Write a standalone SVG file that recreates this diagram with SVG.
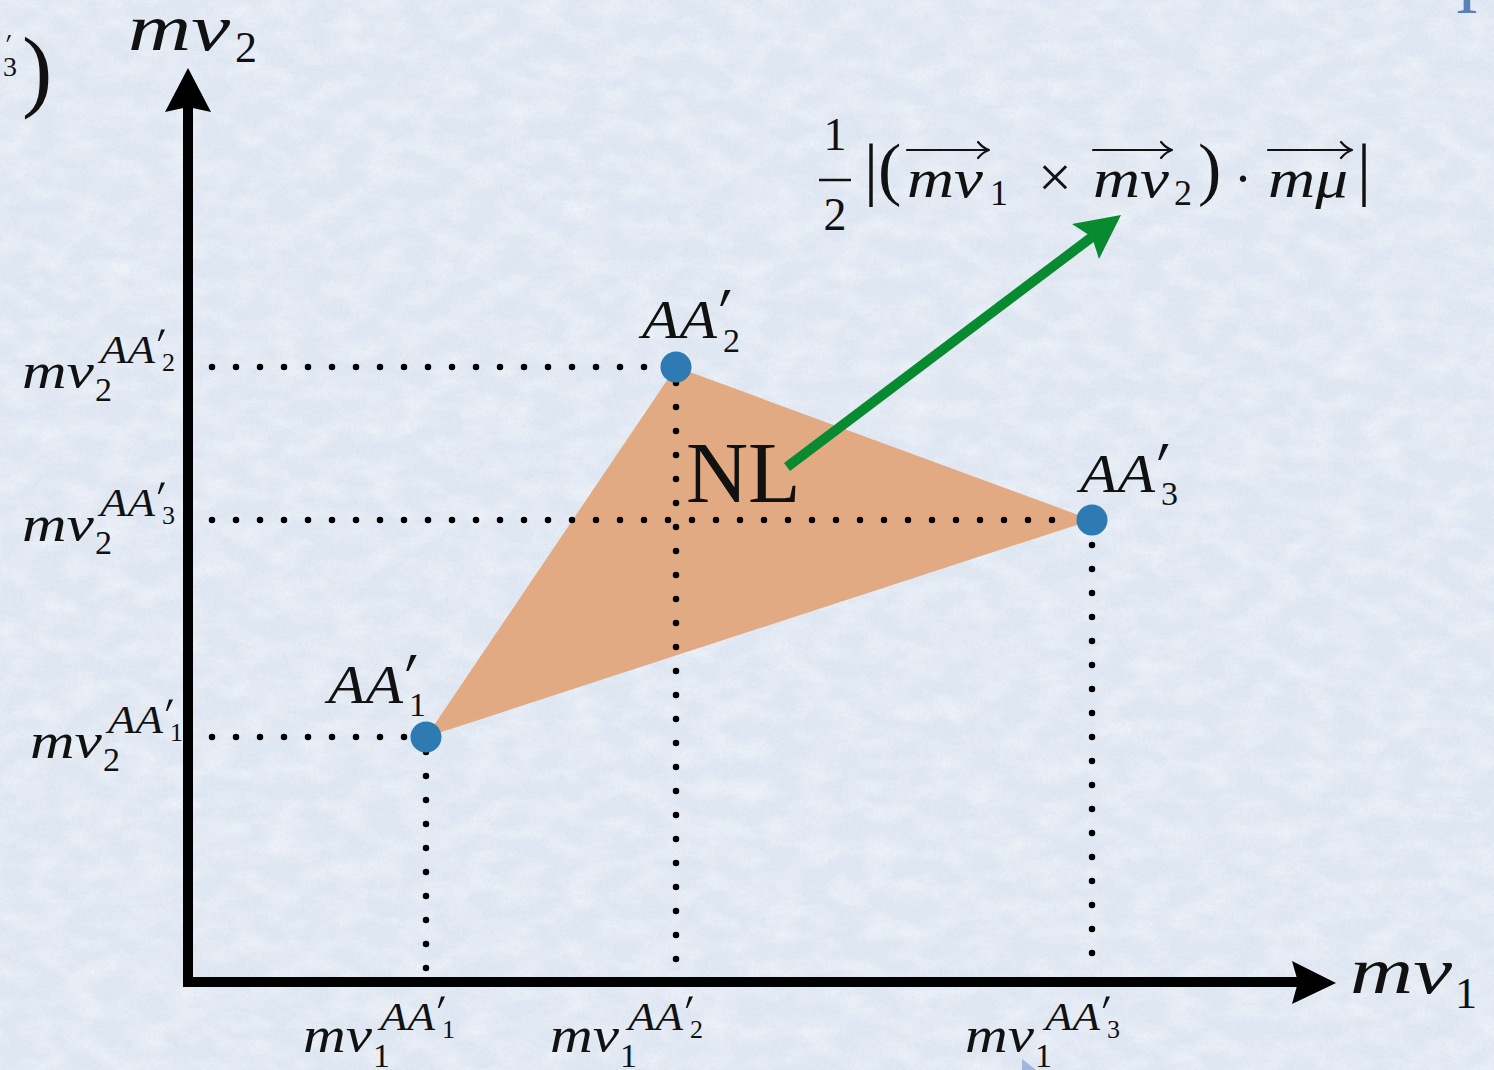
<svg xmlns="http://www.w3.org/2000/svg" width="1494" height="1070" viewBox="0 0 1494 1070">
<defs>
<filter id="paper" x="0" y="0" width="100%" height="100%">
<feTurbulence type="fractalNoise" baseFrequency="0.03 0.05" numOctaves="5" seed="7" result="n1"/>
<feColorMatrix in="n1" values="0 0 0 0 1  0 0 0 0 1  0 0 0 0 1  0.9 0 0 0 -0.33" result="w"/>
<feTurbulence type="fractalNoise" baseFrequency="0.35" numOctaves="2" seed="2" result="n2"/>
<feColorMatrix in="n2" values="0 0 0 0 0.6  0 0 0 0 0.66  0 0 0 0 0.75  0.5 0 0 0 -0.18" result="g"/>
<feMerge><feMergeNode in="w"/><feMergeNode in="g"/></feMerge>
</filter>
</defs>
<style>
.it{font-family:"Liberation Serif","DejaVu Serif",serif;font-style:italic;fill:#111}
.rm{font-family:"Liberation Serif","DejaVu Serif",serif;fill:#111}
.pr{font-family:"DejaVu Serif","Liberation Serif",serif;fill:#111}
.dot{stroke:#000;stroke-width:6.5;stroke-linecap:round;stroke-dasharray:0 24;fill:none}
.pt{fill:#2e7bb3}
.vec{stroke:#111;stroke-width:2.2;fill:none;stroke-linecap:round;stroke-linejoin:round}
.ax{stroke:#000;stroke-width:10}
</style>
<rect width="1494" height="1070" fill="#e0e8f3"/>
<rect width="1494" height="1070" filter="url(#paper)"/>

<g id="fragments">
<text class="pr" font-size="22" transform="translate(6,62) scale(1.1,1.7)">′</text>
<text class="rm" x="3" y="76" font-size="28">3</text>
<text class="rm" x="22" y="100" font-size="91">)</text>
<text class="rm" x="1467" y="13" font-size="70" text-anchor="middle" style="fill:#5a7fb9">I</text>
<polygon points="1022,1059 1036,1070 1022,1070" fill="#9fb6da"/>
</g>

<g id="triangle">
<polygon points="426,737 676,367 1092,520" fill="#e2aa83"/>
</g>

<g id="connectors">
<line class="dot" x1="212" y1="367" x2="652" y2="367"/>
<line class="dot" x1="212" y1="520" x2="1070" y2="520"/>
<line class="dot" x1="212" y1="737" x2="410" y2="737"/>
<line class="dot" x1="676" y1="383" x2="676" y2="965"/>
<line class="dot" x1="426" y1="752" x2="426" y2="970"/>
<line class="dot" x1="1092" y1="545" x2="1092" y2="970"/>
<line x1="787" y1="467" x2="1092" y2="237" stroke="#078a30" stroke-width="10"/>
<polygon points="1121,215 1072,224 1092,237 1099,259" fill="#078a30"/>
</g>

<g id="axes">
<line class="ax" x1="188" y1="987" x2="188" y2="106"/>
<polygon points="188,68 211,112 188,107 165,112" fill="#000"/>
<line class="ax" x1="183" y1="982" x2="1298" y2="982"/>
<polygon points="1336,983 1292,961 1298,982 1292,1004" fill="#000"/>
</g>

<g id="axis-label-y">
<text class="it" x="128" y="50" font-size="66" textLength="102" lengthAdjust="spacingAndGlyphs">mν</text>
<text class="rm" x="235" y="62" font-size="44">2</text>
</g>
<g id="axis-label-x">
<text class="it" x="1350" y="993" font-size="66" textLength="102" lengthAdjust="spacingAndGlyphs">mν</text>
<text class="rm" x="1455" y="1008" font-size="44">1</text>
</g>

<g id="node-AA1">
<circle class="pt" cx="426" cy="737" r="15.5"/>
<text class="it" x="328" y="703" font-size="54" textLength="75" lengthAdjust="spacingAndGlyphs">AA</text>
<text class="pr" font-size="52" transform="translate(405,719) scale(1.1,1.7)">′</text>
<text class="rm" x="409" y="716" font-size="34">1</text>
</g>
<g id="node-AA2">
<circle class="pt" cx="676" cy="367" r="15.5"/>
<text class="it" x="642" y="338" font-size="54" textLength="75" lengthAdjust="spacingAndGlyphs">AA</text>
<text class="pr" font-size="52" transform="translate(719,354) scale(1.1,1.7)">′</text>
<text class="rm" x="723" y="352" font-size="34">2</text>
</g>
<g id="node-AA3">
<circle class="pt" cx="1092" cy="520" r="15.5"/>
<text class="it" x="1080" y="492" font-size="54" textLength="75" lengthAdjust="spacingAndGlyphs">AA</text>
<text class="pr" font-size="52" transform="translate(1157,508) scale(1.1,1.7)">′</text>
<text class="rm" x="1161" y="505" font-size="34">3</text>
</g>

<g id="node-NL">
<text class="rm" x="686" y="502" font-size="86">NL</text>
</g>

<g id="formula">
<text class="rm" x="835" y="150" font-size="46" text-anchor="middle">1</text>
<line x1="819" y1="180" x2="851" y2="180" stroke="#111" stroke-width="2.5"/>
<text class="rm" x="835" y="230" font-size="46" text-anchor="middle">2</text>
<text class="rm" x="864" y="192" font-size="70">|(</text>
<text class="it" x="907" y="197" font-size="54" textLength="76" lengthAdjust="spacingAndGlyphs">mν</text>
<path class="vec" d="M907,150 H988 M978,142 Q983,148 989,150 Q983,152 978,158"/>
<text class="rm" x="990" y="205" font-size="36">1</text>
<text class="rm" x="1038" y="197" font-size="60">×</text>
<text class="it" x="1093" y="197" font-size="54" textLength="76" lengthAdjust="spacingAndGlyphs">mν</text>
<path class="vec" d="M1093,150 H1171 M1161,142 Q1166,148 1172,150 Q1166,152 1161,158"/>
<text class="rm" x="1174" y="205" font-size="36">2</text>
<text class="rm" x="1198" y="192" font-size="70">)</text>
<text class="rm" x="1234" y="197" font-size="54">·</text>
<text class="it" x="1268" y="197" font-size="54" textLength="80" lengthAdjust="spacingAndGlyphs">mμ</text>
<path class="vec" d="M1268,150 H1351 M1341,142 Q1346,148 1352,150 Q1346,152 1341,158"/>
<text class="rm" x="1357" y="192" font-size="70">|</text>
</g>

<g id="tick-y-AA2">
<text class="it" x="22" y="388" font-size="50" textLength="72" lengthAdjust="spacingAndGlyphs">mν</text>
<text class="rm" x="95" y="401" font-size="34">2</text>
<text class="it" x="100" y="363" font-size="40" textLength="55" lengthAdjust="spacingAndGlyphs">AA</text>
<text class="pr" font-size="36" transform="translate(157,375) scale(1.1,1.7)">′</text>
<text class="rm" x="162" y="371" font-size="26">2</text>
</g>
<g id="tick-y-AA3">
<text class="it" x="22" y="541" font-size="50" textLength="72" lengthAdjust="spacingAndGlyphs">mν</text>
<text class="rm" x="95" y="554" font-size="34">2</text>
<text class="it" x="100" y="516" font-size="40" textLength="55" lengthAdjust="spacingAndGlyphs">AA</text>
<text class="pr" font-size="36" transform="translate(157,528) scale(1.1,1.7)">′</text>
<text class="rm" x="162" y="524" font-size="26">3</text>
</g>
<g id="tick-y-AA1">
<text class="it" x="30" y="758" font-size="50" textLength="72" lengthAdjust="spacingAndGlyphs">mν</text>
<text class="rm" x="103" y="771" font-size="34">2</text>
<text class="it" x="108" y="733" font-size="40" textLength="55" lengthAdjust="spacingAndGlyphs">AA</text>
<text class="pr" font-size="36" transform="translate(165,745) scale(1.1,1.7)">′</text>
<text class="rm" x="170" y="741" font-size="26">1</text>
</g>

<g id="tick-x-AA1">
<text class="it" x="303" y="1052" font-size="50" textLength="69" lengthAdjust="spacingAndGlyphs">mν</text>
<text class="rm" x="373" y="1067" font-size="34">1</text>
<text class="it" x="380" y="1030" font-size="40" textLength="55" lengthAdjust="spacingAndGlyphs">AA</text>
<text class="pr" font-size="36" transform="translate(437,1042) scale(1.1,1.7)">′</text>
<text class="rm" x="442" y="1038" font-size="26">1</text>
</g>
<g id="tick-x-AA2">
<text class="it" x="550" y="1052" font-size="50" textLength="69" lengthAdjust="spacingAndGlyphs">mν</text>
<text class="rm" x="620" y="1067" font-size="34">1</text>
<text class="it" x="628" y="1030" font-size="40" textLength="55" lengthAdjust="spacingAndGlyphs">AA</text>
<text class="pr" font-size="36" transform="translate(685,1042) scale(1.1,1.7)">′</text>
<text class="rm" x="690" y="1038" font-size="26">2</text>
</g>
<g id="tick-x-AA3">
<text class="it" x="965" y="1052" font-size="50" textLength="69" lengthAdjust="spacingAndGlyphs">mν</text>
<text class="rm" x="1035" y="1067" font-size="34">1</text>
<text class="it" x="1045" y="1030" font-size="40" textLength="55" lengthAdjust="spacingAndGlyphs">AA</text>
<text class="pr" font-size="36" transform="translate(1102,1042) scale(1.1,1.7)">′</text>
<text class="rm" x="1107" y="1038" font-size="26">3</text>
</g>
</svg>
